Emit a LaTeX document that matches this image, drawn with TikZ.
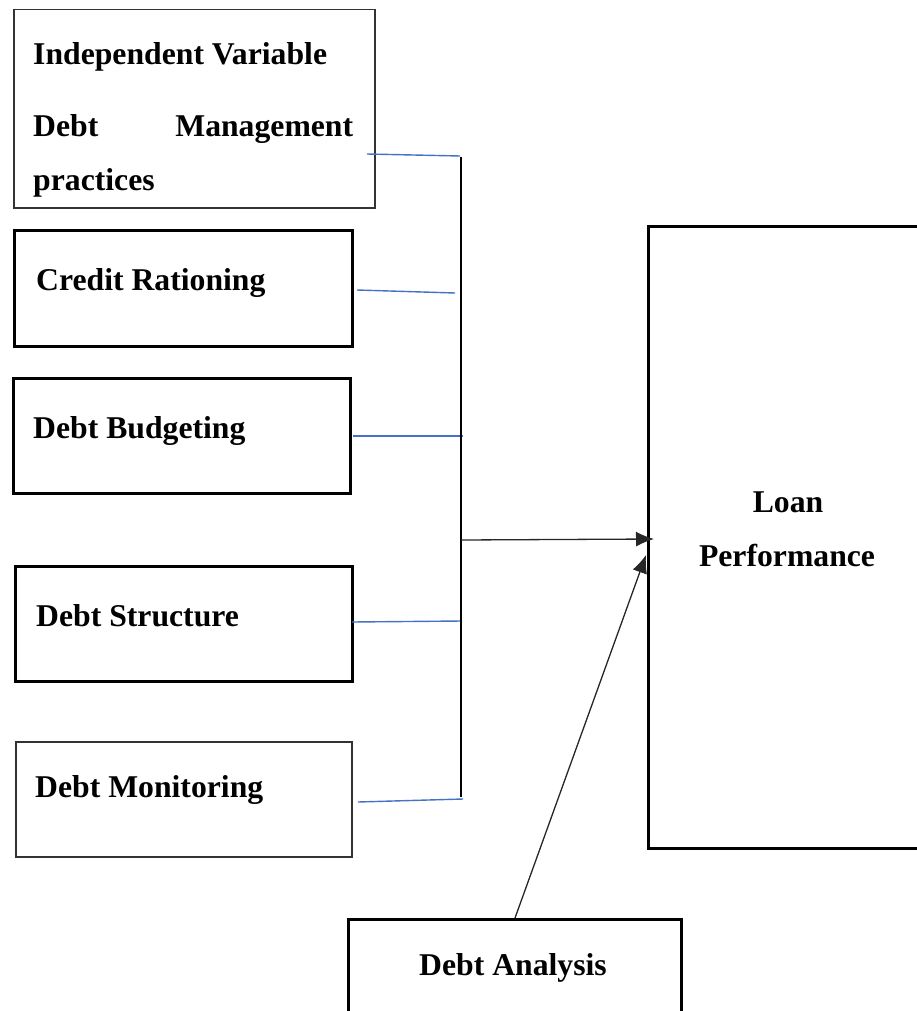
\documentclass[tikz,border=0pt]{standalone}
\usepackage{fontspec}
\setmainfont{Liberation Serif}
\usetikzlibrary{arrows.meta}
\definecolor{feedblue}{RGB}{68,114,196}
\begin{document}
\begin{tikzpicture}[x=1pt,y=-1pt,
  thinbox/.style={draw=black!80,line width=1.5pt,inner sep=0pt,anchor=north west},
  thickbox/.style={draw=black,line width=2.8pt,inner sep=0pt,anchor=north west},
  lbl/.style={font=\fontsize{31.7}{38}\selectfont\bfseries,inner sep=0pt,anchor=base west},
  clbl/.style={lbl,anchor=base},
  feed/.style={draw=feedblue,line width=1.4pt},
  trunk/.style={draw=black,line width=1.6pt},
  arr/.style={draw=black!85,line width=1.3pt,-{Latex[length=18pt,width=15pt]}}
]
\useasboundingbox (0,0) rectangle (916,1011);

% boxes of the independent variables
\node[thinbox,minimum width=361pt,minimum height=198pt] (iv) at (13,9) {};
\node[thickbox,minimum width=338pt,minimum height=116pt] (cr) at (13,229) {};
\node[thickbox,minimum width=337pt,minimum height=115pt] (db) at (12,377) {};
\node[thickbox,minimum width=337pt,minimum height=115pt] (ds) at (14,565) {};
\node[thinbox,minimum width=336pt,minimum height=115pt] (dm) at (15,741) {};

% dependent variable and moderator
\node[thickbox,minimum width=283pt,minimum height=622pt] (lp) at (647,225) {};
\node[thickbox,minimum width=333pt,minimum height=112pt] (da) at (347,918) {};

% labels
\node[lbl] (t1) at (33,65) {Independent Variable};
\node[lbl] (t2) at (33,137) {\makebox[320pt][s]{Debt Management}};
\node[lbl] (t3) at (33,190) {practices};
\node[lbl] (t4) at (36,290) {Credit Rationing};
\node[lbl] (t5) at (33,438) {Debt Budgeting};
\node[lbl] (t6) at (36,626) {Debt Structure};
\node[lbl] (t7) at (35,797) {Debt Monitoring};
\node[clbl] (t8) at (788,512) {Loan};
\node[clbl] (t9) at (787,566) {Performance};
\node[clbl] (t10) at (513,975) {Debt Analysis};

% feeder lines into the common trunk
\coordinate (s1) at (367,154);  \coordinate (j1) at (460,156);
\coordinate (s2) at (357,290);  \coordinate (j2) at (455,293);
\coordinate (s3) at (353,436);  \coordinate (j3) at (463,436);
\coordinate (s4) at (352,622);  \coordinate (j4) at (462,621);
\coordinate (s5) at (358,802);  \coordinate (j5) at (463,799);
\draw[feed] (s1) -- (j1);
\draw[feed] (s2) -- (j2);
\draw[feed] (s3) -- (j3);
\draw[feed] (s4) -- (j4);
\draw[feed] (s5) -- (j5);

% trunk
\coordinate (ttop) at (461,157);
\coordinate (tbot) at (461,797);
\draw[trunk] (ttop) -- (tbot);

% arrows into loan performance
\coordinate (hub) at (461,540);
\coordinate (tipA) at (654,539);
\coordinate (tipB) at (646,555);
\coordinate (daTop) at (515,918);
\draw[arr] (hub) -- (tipA);
\draw[arr] (daTop) -- (tipB);
\end{tikzpicture}
\end{document}
